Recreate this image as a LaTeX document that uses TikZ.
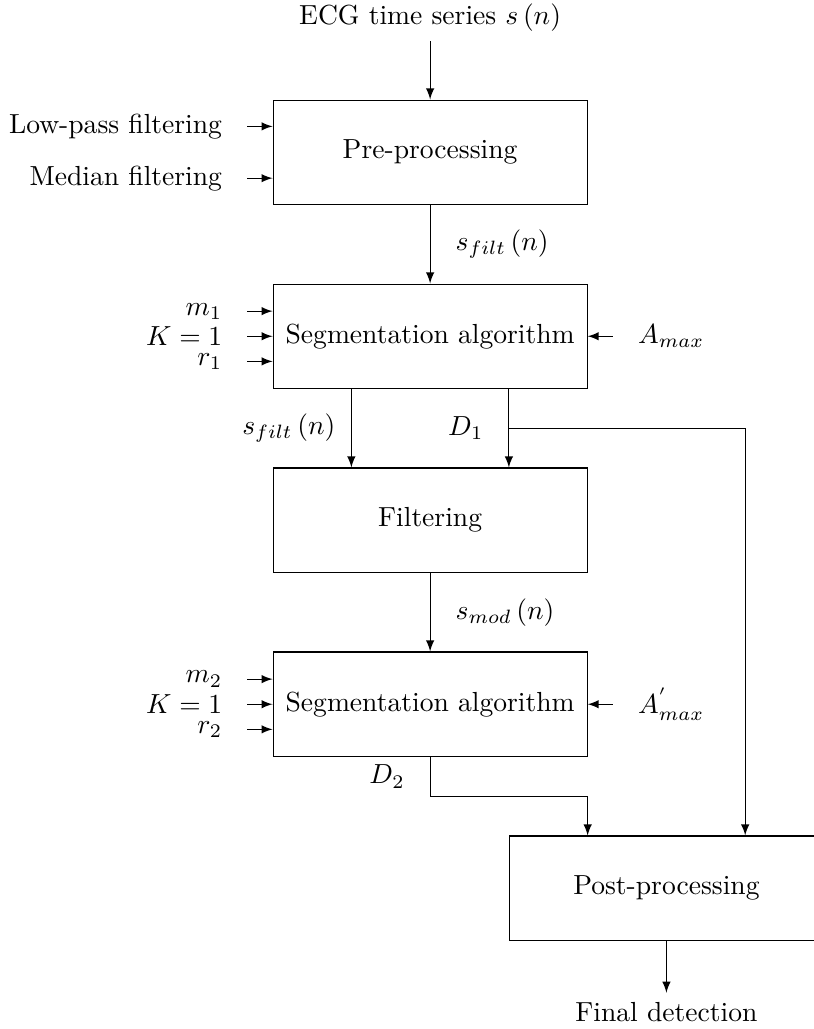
\documentclass[tikz,border=0pt]{standalone}
\usepackage{amsmath}
\usetikzlibrary{arrows.meta, positioning, calc}

\begin{document}
\begin{tikzpicture}[
  >=latex,
  block/.style={draw, minimum width=4cm, minimum height=1.33cm},
  param/.style={inner sep=1pt},
]
  \useasboundingbox (0,0) rectangle (10.36,-13.11);

  % main chain
  \node[block] (pre) at (5.48,-1.94) {Pre-processing};
  \node[block, below=1cm of pre] (seg1) {Segmentation algorithm};
  \node[block, below=1cm of seg1] (filt) {Filtering};
  \node[block, below=1cm of filt] (seg2) {Segmentation algorithm};
  \coordinate (seg2q) at ($(seg2.south)!0.5!(seg2.south east)$);
  \node[block, anchor=north west] (post) at ([yshift=-1cm]seg2q) {Post-processing};

  \node[above=0.74cm of pre] (ecg) {ECG time series $s\left(n\right)$};
  \node[below=0.66cm of post] (final) {Final detection};

  % inputs of pre-processing
  \coordinate (prein1) at ([yshift=0.33cm]pre.west);
  \coordinate (prein2) at ([yshift=-0.33cm]pre.west);
  \node[left=0.52cm of prein1] (lowpass) {Low-pass filtering};
  \node[left=0.52cm of prein2] (median) {Median filtering};
  \draw[->, shorten <=0.2cm] (lowpass.east) -- (prein1);
  \draw[->, shorten <=0.2cm] (median.east) -- (prein2);

  % inputs of first segmentation
  \coordinate (seg1in1) at ([yshift=0.32cm]seg1.west);
  \coordinate (seg1in3) at ([yshift=-0.32cm]seg1.west);
  \node[param, left=0.6cm of seg1in1] (mone) {$m_1$};
  \node[param, left=0.6cm of seg1.west] (kone) {$K=1$};
  \node[param, left=0.6cm of seg1in3] (rone) {$r_1$};
  \node[param, right=0.6cm of seg1.east] (amaxone) {$A_{max}$};
  \draw[->, shorten <=0.28cm] (mone.east) -- (seg1in1);
  \draw[->, shorten <=0.28cm] (kone.east) -- (seg1.west);
  \draw[->, shorten <=0.28cm] (rone.east) -- (seg1in3);
  \draw[->, shorten <=0.28cm] (amaxone.west) -- (seg1.east);

  % inputs of second segmentation
  \coordinate (seg2in1) at ([yshift=0.32cm]seg2.west);
  \coordinate (seg2in3) at ([yshift=-0.32cm]seg2.west);
  \node[param, left=0.6cm of seg2in1] (mtwo) {$m_2$};
  \node[param, left=0.6cm of seg2.west] (ktwo) {$K=1$};
  \node[param, left=0.6cm of seg2in3] (rtwo) {$r_2$};
  \node[param, right=0.6cm of seg2.east] (amaxtwo) {$A_{max}^{'}$};
  \draw[->, shorten <=0.28cm] (mtwo.east) -- (seg2in1);
  \draw[->, shorten <=0.28cm] (ktwo.east) -- (seg2.west);
  \draw[->, shorten <=0.28cm] (rtwo.east) -- (seg2in3);
  \draw[->, shorten <=0.28cm] (amaxtwo.west) -- (seg2.east);

  % signal flow
  \coordinate (seg1a) at ($(seg1.south west)!0.25!(seg1.south east)$);
  \coordinate (seg1b) at ($(seg1.south west)!0.75!(seg1.south east)$);
  \coordinate (filta) at ($(filt.north west)!0.25!(filt.north east)$);
  \coordinate (filtb) at ($(filt.north west)!0.75!(filt.north east)$);
  \coordinate (posta) at ($(post.north west)!0.25!(post.north east)$);
  \coordinate (postb) at ($(post.north west)!0.75!(post.north east)$);
  \coordinate (dsplit) at ($(seg1b)!0.5!(filtb)$);
  \coordinate (dtwobend) at ($(seg2.south)!0.5!(seg2.south |- post.north)$);

  \draw[->] (ecg) -- (pre);
  \draw[->] (pre) -- (seg1) node[midway, right=2mm] (sfiltone) {$s_{filt}\left(n\right)$};
  \draw[->] (seg1a) -- (filta) node[midway, left=0.8mm] (sfilttwo) {$s_{filt}\left(n\right)$};
  \draw[->] (seg1b) -- (filtb) node[midway, left=2mm] (done) {$D_1$};
  \draw[->] (dsplit) -| (postb);
  \draw[->] (filt) -- (seg2) node[midway, right=2mm] (smod) {$s_{mod}\left(n\right)$};
  \draw[->] (seg2.south) -- (dtwobend) node[midway, left=2mm] (dtwo) {$D_2$} -| (posta);
  \draw[->] (post) -- (final);
\end{tikzpicture}
\end{document}
